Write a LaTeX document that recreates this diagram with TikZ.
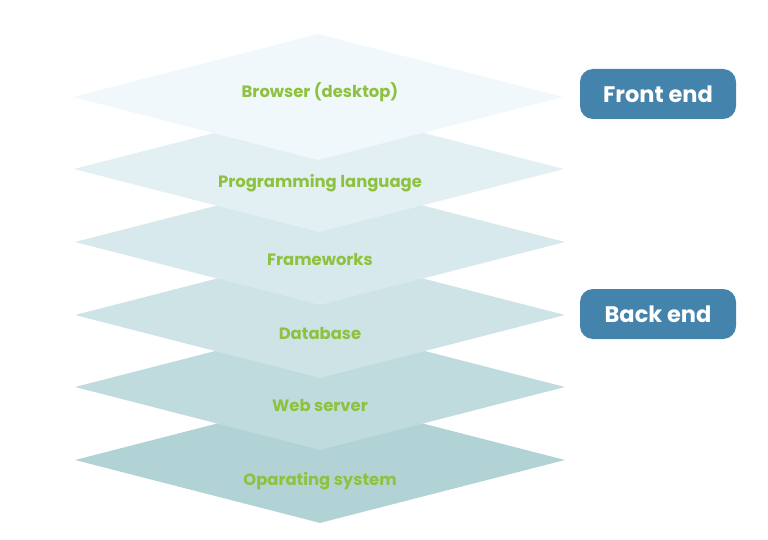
\documentclass[tikz,border=0pt]{standalone}
\usepackage{fontspec}
\setmainfont{Poppins}
\usetikzlibrary{shapes.geometric}
\definecolor{lblgreen}{RGB}{141,193,63}
\definecolor{tagblue}{RGB}{68,131,172}
\definecolor{cA}{RGB}{240,248,251}
\definecolor{cB}{RGB}{226,240,243}
\definecolor{cC}{RGB}{215,233,237}
\definecolor{cD}{RGB}{205,227,230}
\definecolor{cE}{RGB}{192,219,222}
\definecolor{cF}{RGB}{178,211,213}
\begin{document}
\begin{tikzpicture}[x=1pt,y=-1pt,
  layer/.style={diamond, draw=none, minimum width=490pt, minimum height=126pt, inner sep=0pt},
  lbl/.style={font=\bfseries\fontsize{16.4}{19}\selectfont, text=lblgreen, inner sep=0pt},
  tag/.style={rounded corners=13pt, fill=tagblue, text=white, minimum width=156pt, minimum height=50pt, inner sep=0pt, font=\bfseries\fontsize{22.5}{26}\selectfont}]
\useasboundingbox[fill=white] (0,0) rectangle (768,540);
\node[layer, fill=cF] (os) at (320,460) {};
\node[layer, fill=cE] (web) at (320,387) {};
\node[layer, fill=cD] (db) at (320,315) {};
\node[layer, fill=cC] (fw) at (320,242) {};
\node[layer, fill=cB] (pl) at (319,169) {};
\node[layer, fill=cA] (br) at (318,97) {};
\node[lbl] (tbr) at (320,92) {Browser (desktop)};
\node[lbl] (tpl) at (320,183) {Programming language};
\node[lbl] (tfw) at (320,259) {Frameworks};
\node[lbl] (tdb) at (320,333) {Database};
\node[lbl] (tweb) at (320,405) {Web server};
\node[lbl] (tos) at (320,481) {Oparating system};
\node[tag] (fe) at (658,94) {Front end};
\node[tag] (be) at (658,314) {Back end};
\end{tikzpicture}
\end{document}
